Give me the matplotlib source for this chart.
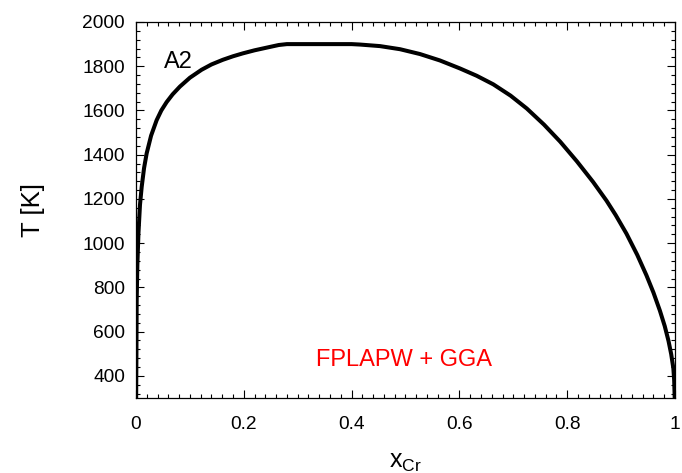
import numpy as np
import matplotlib
matplotlib.use("Agg")
import matplotlib.pyplot as plt
from matplotlib.ticker import MultipleLocator

plt.rcParams['font.family'] = ['Liberation Sans', 'DejaVu Sans']

# phase boundary of the A2 miscibility gap
x_cr = [0.0003, 0.0008, 0.0013, 0.0025, 0.0046, 0.0074, 0.0106, 0.015,
        0.0198, 0.028, 0.0383, 0.047, 0.0569, 0.068, 0.0815, 0.10,
        0.1217, 0.14, 0.161, 0.18, 0.198, 0.22, 0.248, 0.265, 0.28,
        0.36, 0.40, 0.4156, 0.4527, 0.4898, 0.527, 0.564, 0.601, 0.632,
        0.663, 0.695, 0.725, 0.757, 0.787, 0.818, 0.848, 0.873, 0.89,
        0.910, 0.93, 0.947, 0.96, 0.972, 0.981, 0.988, 0.993, 0.997,
        0.9985, 0.9995]
t_k = [300, 500, 743, 900, 1046, 1173, 1255, 1340,
       1406, 1486, 1556, 1600, 1638, 1673, 1708, 1748,
       1784, 1808, 1829, 1845, 1858, 1872, 1887, 1896, 1900,
       1900, 1900, 1898, 1891, 1877, 1855, 1826, 1790, 1757,
       1718, 1667, 1609, 1536, 1459, 1370, 1277, 1192, 1127,
       1043, 947, 855, 777, 695, 625, 558, 498, 434,
       380, 300]

x_ticks = [0, 0.2, 0.4, 0.6, 0.8, 1]
x_labels = ['0', '0.2', '0.4', '0.6', '0.8', '1']
y_ticks = [400, 600, 800, 1000, 1200, 1400, 1600, 1800, 2000]

fig = plt.figure(figsize=(6.82, 4.73), dpi=100)
ax = fig.add_axes([0.1994, 0.1586, 0.7903, 0.7949])

ax.plot(x_cr, t_k, color='black', lw=2.9, solid_joinstyle='round',
        solid_capstyle='butt')

ax.set_xlim(0, 1)
ax.set_ylim(300, 2000)
ax.set_xticks(x_ticks)
ax.set_xticklabels(x_labels)
ax.set_yticks(y_ticks)
ax.xaxis.set_minor_locator(MultipleLocator(0.02))
ax.yaxis.set_minor_locator(MultipleLocator(40))
ax.tick_params(which='both', direction='in', top=True, right=True,
               labelsize=13.8, width=0.8, color='black')
ax.tick_params(which='major', length=6)
ax.tick_params(which='minor', length=3)
ax.tick_params(axis='y', pad=8)
ax.tick_params(axis='x', pad=13)
for s in ax.spines.values():
    s.set_linewidth(0.9)

ax.set_xlabel(r'x$_{\mathregular{Cr}}$', fontsize=18, labelpad=12)
ax.set_ylabel('T [K]', fontsize=18.5, labelpad=27)

ax.text(0.078, 1819, 'A2', fontsize=17, ha='center', va='center')
ax.text(0.498, 472, 'FPLAPW + GGA', fontsize=17, color='red',
        ha='center', va='center')

fig.savefig('out.png', dpi=100)
